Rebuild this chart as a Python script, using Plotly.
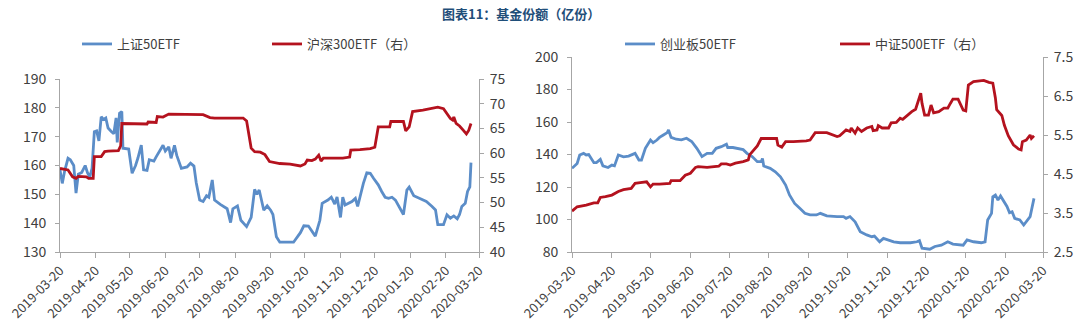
import pandas as pd
import plotly.graph_objects as go

START = "2019-03-20"
tick_dates = ["2019-03-20", "2019-04-20", "2019-05-20", "2019-06-20", "2019-07-20",
              "2019-08-20", "2019-09-20", "2019-10-20", "2019-11-20", "2019-12-20",
              "2020-01-20", "2020-02-20", "2020-03-20"]

# 上证50ETF (left chart, left axis) : days since 2019-03-20, values
sz50_days = [0, 2, 4, 7, 9, 12, 14, 16, 19, 22,
             24, 26, 28, 30, 32, 34, 36, 38, 40, 42,
             45, 47, 49, 50, 52, 54, 55, 60, 63, 66,
             68, 71, 73, 76, 78, 82, 84, 87, 90, 92,
             95, 97, 100, 102, 106, 111, 114, 117, 119, 122,
             125, 128, 130, 133, 135, 140, 146, 149, 151, 155,
             158, 163, 167, 170, 172, 174, 178, 181, 184, 186,
             189, 192, 204, 210, 213, 217, 223, 227, 229, 234,
             237, 240, 242, 245, 247, 249, 252, 255, 258, 260,
             262, 265, 268, 271, 274, 278, 281, 284, 287, 290,
             293, 297, 300, 303, 305, 309, 314, 320, 325, 328,
             330, 335, 338, 341, 344, 347, 349, 351, 354, 356,
             358, 359]
sz50_vals = [158.4, 153.8, 158.0, 162.5, 162.0, 160.0, 150.4, 157.0, 157.6, 160.0,
             157.5, 156.0, 159.0, 171.7, 172.0, 168.5, 176.9, 176.0, 176.5, 173.0,
             171.7, 171.0, 176.5, 168.0, 178.1, 178.7, 166.0, 165.7, 157.3, 160.0,
             162.5, 167.1, 158.5, 158.3, 162.0, 161.5, 163.0, 165.0, 167.0, 165.0,
             166.5, 162.5, 167.0, 163.5, 159.0, 159.5, 160.8, 159.8, 154.0, 148.0,
             147.5, 149.5, 149.0, 155.0, 148.0, 146.5, 145.0, 140.2, 145.0, 146.0,
             141.0, 138.8, 142.0, 151.7, 150.0, 151.5, 144.5, 146.0, 144.5, 143.0,
             135.3, 133.4, 133.4, 136.7, 139.1, 139.0, 135.5, 141.0, 146.9, 148.0,
             149.0, 146.6, 149.1, 142.0, 149.0, 146.3, 147.0, 147.5, 148.6, 145.8,
             149.0, 153.8, 157.5, 157.3, 155.5, 153.3, 151.0, 149.0, 148.6, 149.0,
             148.0, 145.0, 143.0, 151.5, 152.5, 149.5, 148.6, 147.5, 145.8, 144.6,
             139.5, 139.5, 142.9, 141.7, 142.5, 141.5, 143.0, 145.8, 146.9, 151.0,
             152.6, 161.0]

# 沪深300ETF（右） (left chart, right axis)
hs300_days = [0, 4, 7, 11, 14, 16, 20, 23, 25, 29,
              30, 36, 39, 42, 51, 53, 54, 76, 77, 84,
              85, 90, 95, 99, 125, 131, 135, 160, 163, 167,
              170, 175, 179, 183, 192, 201, 208, 210, 214, 216,
              220, 223, 226, 228, 230, 236, 242, 247, 253, 254,
              262, 271, 275, 278, 288, 289, 300, 302, 305, 308,
              317, 326, 330, 335, 338, 341, 343, 344, 346, 349,
              352, 355, 357, 359]
hs300_vals = [56.9, 56.7, 56.6, 55.2, 54.9, 55.3, 55.3, 55.2, 54.9, 54.9,
              59.3, 59.3, 60.3, 60.4, 60.5, 61.5, 66.0, 65.9, 66.3, 66.2,
              67.4, 67.3, 67.9, 67.9, 67.8, 67.2, 67.1, 67.1, 66.5, 61.0,
              60.3, 60.2, 59.7, 58.3, 57.9, 57.8, 57.6, 57.4, 57.8, 58.6,
              58.5, 58.8, 59.6, 58.4, 59.0, 59.0, 59.1, 59.0, 59.2, 60.6,
              60.7, 60.9, 61.2, 65.3, 65.3, 66.4, 66.4, 64.5, 65.3, 68.4,
              68.7, 69.2, 69.3, 69.0, 68.1, 67.0, 66.7, 67.3, 66.0, 65.5,
              64.7, 63.9, 64.6, 66.0]

# 创业板50ETF (right chart, left axis)
cyb50_days = [0, 4, 6, 9, 11, 13, 17, 19, 22, 24,
              28, 31, 33, 36, 40, 44, 49, 52, 54, 57,
              61, 63, 66, 68, 71, 74, 75, 77, 81, 85,
              89, 93, 97, 101, 105, 109, 112, 116, 120, 121,
              125, 129, 133, 136, 140, 144, 147, 148, 149, 154,
              158, 162, 166, 169, 173, 177, 181, 185, 190, 193,
              198, 206, 211, 213, 216, 220, 224, 229, 233, 235,
              239, 242, 246, 250, 255, 263, 268, 270, 272, 278,
              282, 287, 292, 296, 304, 307, 312, 318, 321, 323,
              326, 327, 329, 331, 333, 335, 338, 340, 342, 344,
              348, 351, 353, 356, 359]
cyb50_vals = [131.5, 134.5, 139.7, 140.7, 139.7, 140.0, 135.0, 135.0, 137.0, 133.0,
              132.0, 133.5, 133.0, 139.7, 138.6, 139.0, 140.7, 136.6, 136.6, 143.8,
              148.9, 147.3, 148.9, 150.5, 152.0, 153.5, 155.1, 150.5, 149.4, 149.0,
              150.0, 148.0, 143.8, 138.7, 140.7, 140.7, 143.8, 144.8, 146.3, 144.3,
              144.3, 143.8, 143.0, 140.7, 138.7, 135.6, 135.6, 137.6, 132.9, 131.5,
              129.4, 126.3, 121.2, 115.1, 109.9, 106.9, 103.8, 102.8, 102.8, 103.8,
              102.2, 101.8, 101.8, 100.7, 101.8, 98.6, 92.5, 90.5, 89.4, 89.8,
              86.3, 88.4, 87.4, 86.3, 85.7, 85.7, 86.3, 87.0, 82.3, 81.7,
              83.4, 84.2, 86.3, 84.9, 84.2, 87.4, 86.3, 85.7, 86.3, 99.7,
              103.8, 114.0, 115.1, 112.0, 114.5, 112.0, 108.0, 104.2, 104.8, 100.7,
              99.7, 96.6, 98.6, 101.8, 113.0]

# 中证500ETF（右） (right chart, right axis)
zz500_days = [0, 4, 11, 17, 20, 22, 26, 31, 36, 40,
              46, 49, 53, 58, 61, 63, 68, 76, 77, 84,
              88, 92, 96, 98, 105, 111, 114, 116, 120, 123,
              127, 133, 137, 138, 141, 144, 147, 159, 160, 163,
              166, 172, 182, 185, 189, 198, 206, 208, 213, 216,
              217, 220, 222, 225, 229, 233, 234, 237, 238, 241,
              246, 248, 252, 255, 257, 261, 264, 267, 269, 271,
              272, 274, 277, 279, 281, 285, 289, 292, 294, 296,
              300, 302, 304, 306, 307, 308, 312, 320, 324, 327,
              329, 330, 334, 336, 339, 343, 347, 349, 350, 353,
              356, 357, 359]
zz500_vals = [3.55, 3.66, 3.70, 3.76, 3.76, 3.90, 3.92, 3.96, 4.05, 4.10,
              4.13, 4.26, 4.28, 4.30, 4.17, 4.24, 4.24, 4.26, 4.33, 4.33,
              4.47, 4.52, 4.67, 4.69, 4.67, 4.69, 4.70, 4.76, 4.76, 4.73,
              4.78, 4.82, 4.86, 4.99, 5.12, 5.22, 5.41, 5.41, 5.24, 5.19,
              5.33, 5.33, 5.35, 5.37, 5.56, 5.56, 5.46, 5.48, 5.63, 5.59,
              5.68, 5.55, 5.68, 5.59, 5.68, 5.72, 5.61, 5.63, 5.74, 5.68,
              5.68, 5.81, 5.82, 5.93, 5.90, 6.02, 6.10, 6.16, 6.35, 6.57,
              6.31, 6.01, 6.01, 6.27, 6.07, 6.10, 6.19, 6.19, 6.31, 6.42,
              6.42, 6.27, 6.14, 6.12, 6.40, 6.78, 6.87, 6.90, 6.85, 6.83,
              6.45, 6.15, 6.00, 5.75, 5.48, 5.25, 5.14, 5.12, 5.33, 5.37,
              5.50, 5.41, 5.48]

left_y_ticks = [130, 140, 150, 160, 170, 180, 190]
left_y2_ticks = [40, 45, 50, 55, 60, 65, 70, 75]
right_y_ticks = [80, 100, 120, 140, 160, 180, 200]
right_y2_ticks = [2.5, 3.5, 4.5, 5.5, 6.5, 7.5]


def to_dates(days):
    return [pd.Timestamp(START) + pd.Timedelta(days=d) for d in days]


BLUE = "#5B8DC8"
RED = "#B4121E"
AXIS = "#A6A6A6"
TXT = "#404040"
FONT = "Microsoft YaHei, Noto Sans CJK SC, sans-serif"

W, H = 1080, 335
fig = go.Figure()
fig.add_trace(go.Scatter(x=to_dates(sz50_days), y=sz50_vals, name="上证50ETF",
                         xaxis="x", yaxis="y", mode="lines",
                         line=dict(color=BLUE, width=2.8), legend="legend"))
fig.add_trace(go.Scatter(x=to_dates(hs300_days), y=hs300_vals, name="沪深300ETF（右）",
                         xaxis="x", yaxis="y2", mode="lines",
                         line=dict(color=RED, width=2.8), legend="legend"))
fig.add_trace(go.Scatter(x=to_dates(cyb50_days), y=cyb50_vals, name="创业板50ETF",
                         xaxis="x2", yaxis="y3", mode="lines",
                         line=dict(color=BLUE, width=2.8), legend="legend2"))
fig.add_trace(go.Scatter(x=to_dates(zz500_days), y=zz500_vals, name="中证500ETF（右）",
                         xaxis="x2", yaxis="y4", mode="lines",
                         line=dict(color=RED, width=2.8), legend="legend2"))

xcommon = dict(type="date", range=[tick_dates[0], tick_dates[-1]],
               tickvals=tick_dates, ticktext=tick_dates, tickangle=-45,
               showline=True, linecolor=AXIS, linewidth=1, ticks="outside",
               ticklen=5, tickcolor=AXIS, showgrid=False, zeroline=False,
               tickfont=dict(size=13, color=TXT, family=FONT))
ycommon = dict(showline=True, linecolor=AXIS, linewidth=1, ticks="outside",
               ticklen=4, tickcolor=AXIS, showgrid=False, zeroline=False,
               tickfont=dict(size=14, color=TXT, family=FONT))

fig.update_layout(
    width=W, height=H,
    margin=dict(l=0, r=0, t=0, b=0, autoexpand=False),
    paper_bgcolor="white", plot_bgcolor="white",
    font=dict(family=FONT, color=TXT),
    xaxis=dict(domain=[60 / W, 479 / W], anchor="y", **xcommon),
    yaxis=dict(domain=[1 - 252 / H, 1 - 79 / H], anchor="x", range=[130, 190],
               tickvals=left_y_ticks, ticklabelstandoff=6, **ycommon),
    yaxis2=dict(overlaying="y", side="right", anchor="x", range=[40, 75],
                tickvals=left_y2_ticks, ticklabelstandoff=3, **ycommon),
    xaxis2=dict(domain=[572 / W, 1043 / W], anchor="y3", **xcommon),
    yaxis3=dict(domain=[1 - 252 / H, 1 - 57 / H], anchor="x2", range=[80, 200],
                tickvals=right_y_ticks, ticklabelstandoff=6, **ycommon),
    yaxis4=dict(overlaying="y3", side="right", anchor="x2", range=[2.5, 7.5],
                tickvals=right_y2_ticks, tickformat=".1f", ticklabelstandoff=3,
                **ycommon),
    legend=dict(orientation="h", x=77 / W, xanchor="left", y=1 - 44 / H,
                yanchor="middle", bgcolor="rgba(0,0,0,0)", entrywidth=145,
                font=dict(size=13, color=TXT, family=FONT)),
    legend2=dict(orientation="h", x=620 / W, xanchor="left", y=1 - 44 / H,
                 yanchor="middle", bgcolor="rgba(0,0,0,0)", entrywidth=170,
                 font=dict(size=13, color=TXT, family=FONT)),
    annotations=[dict(text="<b>图表11：基金份额（亿份）</b>", x=521 / W, y=1 - 14 / H,
                      xref="paper", yref="paper", showarrow=False,
                      xanchor="center", yanchor="middle",
                      font=dict(size=13, color="#1F4E79", family=FONT))],
)

fig.write_html("out.html")
